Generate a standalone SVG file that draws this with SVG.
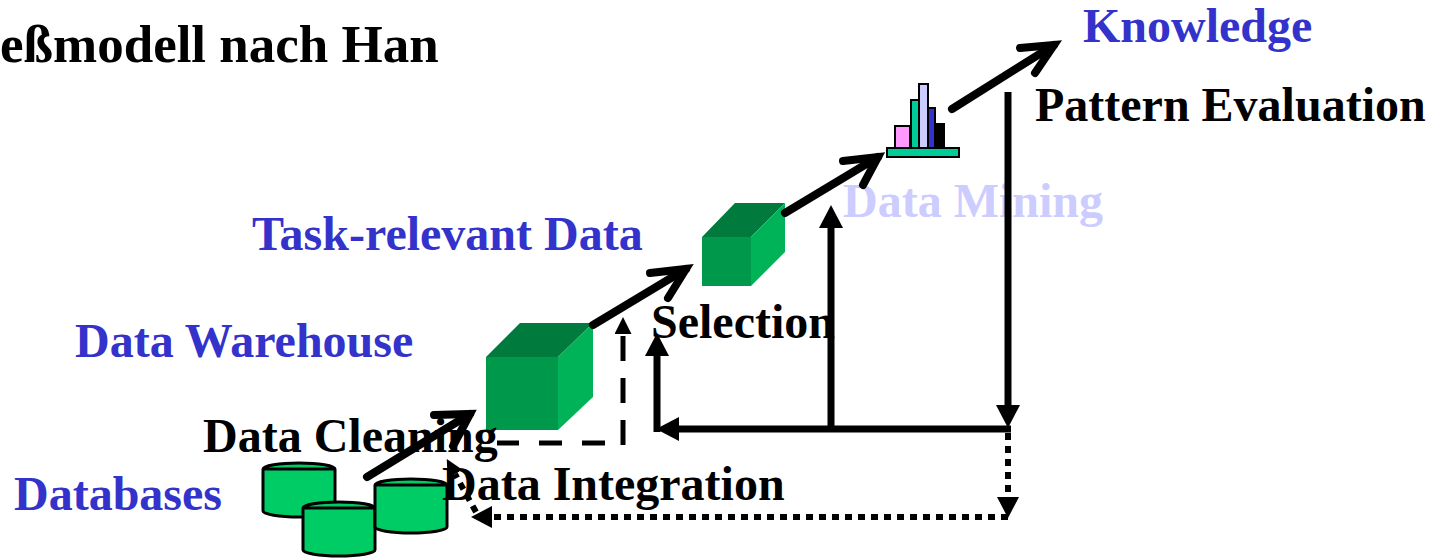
<svg xmlns="http://www.w3.org/2000/svg" width="1444" height="558" viewBox="0 0 1444 558">
<style>
text{font-family:"Liberation Serif","Times New Roman",serif;font-weight:bold;font-size:48px}
.title{font-size:53px}
.blue{fill:#3333CC}
.black{fill:#000}
.mine{fill:#CCCCFF}
.cyl{fill:#00CC66;stroke:#000;stroke-width:3}
.bar{stroke:#000;stroke-width:2}
.flow{fill:none;stroke:#000;stroke-width:8;stroke-linecap:round}
.head{fill:none;stroke:#000;stroke-width:8;stroke-linecap:round;stroke-linejoin:miter}
.solid{fill:none;stroke:#000;stroke-width:7}
.dash{fill:none;stroke:#000;stroke-width:5}
.dot{fill:none;stroke:#000;stroke-width:6;stroke-dasharray:7 6}
</style>
<defs>
<path id="cylshape" d="M0,0 A36,6 0 0 1 72,0 V42 A36,6 0 0 1 0,42 Z M0,0 H72"/>
<marker id="tri" viewBox="0 0 23 24" refX="0" refY="12" markerWidth="23" markerHeight="24" markerUnits="userSpaceOnUse" orient="auto"><path d="M0,0 L23,12 L0,24 Z" fill="#000"/></marker>
<marker id="triS" viewBox="0 0 17 17" refX="0" refY="8.5" markerWidth="17" markerHeight="17" markerUnits="userSpaceOnUse" orient="auto"><path d="M0,0 L17,8.5 L0,17 Z" fill="#000"/></marker>
<marker id="triD" viewBox="0 0 21 22" refX="0" refY="11" markerWidth="21" markerHeight="22" markerUnits="userSpaceOnUse" orient="auto"><path d="M0,0 L21,11 L0,22 Z" fill="#000"/></marker>
</defs>

<text id="title" class="black title" x="0" y="62">eßmodell nach Han</text>

<g id="databases">
<use href="#cylshape" class="cyl" transform="translate(263,469)"/>
<use href="#cylshape" class="cyl" transform="translate(303,508)"/>
<use href="#cylshape" class="cyl" transform="translate(375,485)"/>
<text class="blue" x="14" y="510">Databases</text>
</g>

<g id="warehouse">
<polygon points="486,357 520,323 593,323 558,357" fill="#007A3D"/>
<polygon points="558,357 593,323 593,397 558,430" fill="#00B359"/>
<rect x="486" y="357" width="72" height="73" fill="#00994C"/>
<text class="blue" x="75" y="357">Data Warehouse</text>
</g>

<g id="taskdata">
<polygon points="702,237 735,203 785,203 751,237" fill="#007A3D"/>
<polygon points="751,237 785,203 785,252 751,286" fill="#00B359"/>
<rect x="702" y="237" width="49" height="49" fill="#00994C"/>
<text class="blue" x="252" y="250">Task-relevant Data</text>
</g>

<g id="patterns">
<rect class="bar" x="895" y="126" width="15" height="22" fill="#FF99FF"/>
<rect class="bar" x="911" y="100" width="8" height="48" fill="#00CC99"/>
<rect class="bar" x="919" y="84" width="9" height="64" fill="#CCCCFF"/>
<rect class="bar" x="928" y="108" width="7" height="40" fill="#3333CC"/>
<rect class="bar" x="935" y="124" width="9" height="24" fill="#000"/>
<rect class="bar" x="887" y="148" width="72" height="9" fill="#00CC99"/>
<text class="mine" x="843" y="217">Data Mining</text>
</g>

<g id="knowledge">
<text class="blue" x="1083" y="42">Knowledge</text>
</g>

<g id="steps">
<text class="black" x="203" y="452">Data Cleaning</text>
<text class="black" x="442" y="500">Data Integration</text>
<text class="black" x="651" y="338">Selection</text>
<text class="black" x="1035" y="121">Pattern Evaluation</text>
</g>

<g id="connectors">
<line class="flow" x1="367" y1="477" x2="470" y2="414"/>
<polyline class="head" points="434,415 470,414 453,446"/>
<line class="flow" x1="593" y1="325" x2="686" y2="269"/>
<polyline class="head" points="650,273 686,269 668,298"/>
<line class="flow" x1="785" y1="213" x2="878" y2="157"/>
<polyline class="head" points="843,161 878,157 863,185"/>
<line class="flow" x1="952" y1="109" x2="1054" y2="45"/>
<polyline class="head" points="1020,48 1054,45 1035,73"/>

<path class="solid" d="M1008,92 V405" marker-end="url(#tri)"/>
<path class="solid" d="M1011,429 H679" marker-end="url(#tri)"/>
<path class="solid" d="M831,429 V228" marker-end="url(#tri)"/>
<path class="solid" d="M657,432 V356" marker-end="url(#tri)"/>

<path class="dash" d="M605,443 H497" stroke-dasharray="23 20"/>
<path class="dash" d="M623,445 V334" stroke-dasharray="25 17" marker-end="url(#triS)"/>

<path class="dot" d="M1008,433 V497" marker-end="url(#triD)"/>
<path class="dot" d="M1008,517 H492" marker-end="url(#triD)"/>
<path class="dot" d="M476,512 L455,474" marker-end="url(#triS)"/>
</g>
</svg>
